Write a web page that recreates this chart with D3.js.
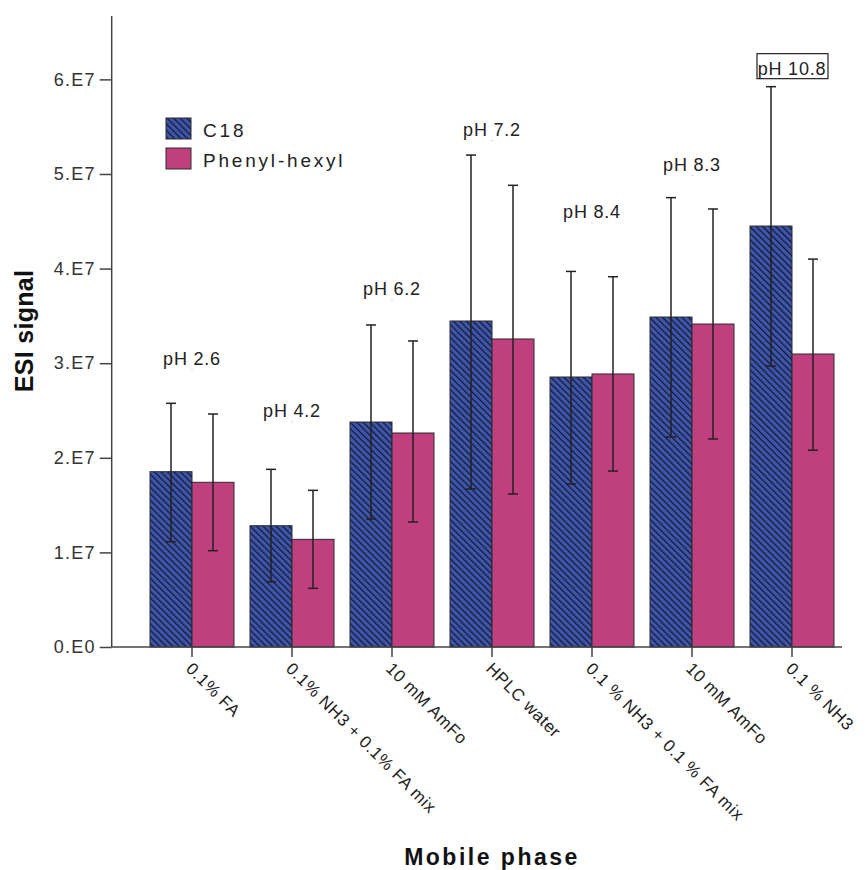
<!DOCTYPE html>
<html lang="en">
<head>
<meta charset="UTF-8">
<title>ESI signal by mobile phase</title>
<script src="https://d3js.org/d3.v7.min.js"></script>
<style>
    body { margin: 0; background: #fff; }
    text { font-family: "Liberation Sans", Arial, sans-serif; fill: #222; }
    .axis path, .axis line { stroke: #444; stroke-width: 1.5px; }
    .ytick text { font-size: 18px; letter-spacing: 1.2px; fill: #333; }
    .xlab { font-size: 17px; letter-spacing: 0.6px; }
    .ph { font-size: 18px; letter-spacing: 0.8px; }
    .legend text { font-size: 19px; letter-spacing: 2.8px; }
    .title { font-weight: bold; fill: #111; }
</style>
</head>
<body>
<svg width="868" height="870"></svg>
<script>
    // mobile phases (x categories)
    const categories = ["0.1% FA", "0.1% NH3 + 0.1% FA mix", "10 mM AmFo", "HPLC water",
        "0.1 % NH3 + 0.1 % FA mix", "10 mM AmFo", "0.1 % NH3"];
    const series = ["C18", "Phenyl-hexyl"];

    // mean ESI signal and error bar ends
    const c18 = [1.853e7, 1.282e7, 2.378e7, 3.446e7, 2.854e7, 3.488e7, 4.45e7];
    const c18Hi = [2.576e7, 1.878e7, 3.404e7, 5.20e7, 3.97e7, 4.75e7, 5.923e7];
    const c18Lo = [1.113e7, 0.69e7, 1.353e7, 1.67e7, 1.723e7, 2.22e7, 2.97e7];
    const phenyl = [1.741e7, 1.138e7, 2.262e7, 3.256e7, 2.886e7, 3.414e7, 3.097e7];
    const phenylHi = [2.463e7, 1.656e7, 3.235e7, 4.88e7, 3.914e7, 4.63e7, 4.10e7];
    const phenylLo = [1.018e7, 0.62e7, 1.321e7, 1.617e7, 1.86e7, 2.199e7, 2.08e7];

    // pH annotations and the signal level where their baseline sits
    const phLabels = ["pH 2.6", "pH 4.2", "pH 6.2", "pH 7.2", "pH 8.4", "pH 8.3", "pH 10.8"];
    const phLevel = [2.98e7, 2.43e7, 3.72e7, 5.40e7, 4.53e7, 5.03e7, 6.05e7];

    const yTicks = [0, 1e7, 2e7, 3e7, 4e7, 5e7, 6e7];
    const yTickLabels = ["0.E0", "1.E7", "2.E7", "3.E7", "4.E7", "5.E7", "6.E7"];

    const colors = ["url(#hatch)", "#C0407F"];

    const svg = d3.select("svg");
    const axisX = 111.7;

    const x = d3.scaleBand()
        .domain(d3.range(categories.length))
        .range([142, 842])
        .paddingInner(0.16)
        .paddingOuter(0.08);

    const xs = d3.scaleBand()
        .domain(series)
        .range([0, x.bandwidth()]);

    const y = d3.scaleLinear()
        .domain([0, 6.67e7])
        .range([647, 16]);

    // diagonal hatch for C18
    const pat = svg.append("defs").append("pattern")
        .attr("id", "hatch")
        .attr("patternUnits", "userSpaceOnUse")
        .attr("width", 4.6)
        .attr("height", 10)
        .attr("patternTransform", "rotate(-45)");
    pat.append("rect").attr("width", 4.6).attr("height", 10).attr("fill", "#3D55AC");
    pat.append("line")
        .attr("x1", 0.6).attr("x2", 0.6).attr("y1", 0).attr("y2", 10)
        .attr("stroke", "#141828").attr("stroke-width", 1.25);

    const rows = categories.map((c, i) => [
        { s: series[0], i: i, v: c18[i], hi: c18Hi[i], lo: c18Lo[i] },
        { s: series[1], i: i, v: phenyl[i], hi: phenylHi[i], lo: phenylLo[i] }
    ]);

    const groups = svg.append("g").selectAll("g")
        .data(rows)
        .enter().append("g")
        .attr("transform", (d, i) => "translate(" + x(i) + ",0)");

    groups.selectAll("rect")
        .data(d => d)
        .enter().append("rect")
        .attr("x", d => xs(d.s))
        .attr("y", d => y(d.v))
        .attr("width", xs.bandwidth())
        .attr("height", d => y(0) - y(d.v))
        .attr("fill", (d, j) => colors[j])
        .attr("stroke", "#2a2a2a")
        .attr("stroke-width", 1);

    // error bars
    const eb = groups.selectAll("g.err")
        .data(d => d)
        .enter().append("g")
        .attr("class", "err")
        .attr("stroke", "#222")
        .attr("stroke-width", 1.5);
    eb.append("line")
        .attr("x1", d => xs(d.s) + xs.bandwidth() / 2)
        .attr("x2", d => xs(d.s) + xs.bandwidth() / 2)
        .attr("y1", d => y(d.hi))
        .attr("y2", d => y(d.lo));
    eb.append("line")
        .attr("x1", d => xs(d.s) + xs.bandwidth() / 2 - 5)
        .attr("x2", d => xs(d.s) + xs.bandwidth() / 2 + 5)
        .attr("y1", d => y(d.hi))
        .attr("y2", d => y(d.hi));
    eb.append("line")
        .attr("x1", d => xs(d.s) + xs.bandwidth() / 2 - 5)
        .attr("x2", d => xs(d.s) + xs.bandwidth() / 2 + 5)
        .attr("y1", d => y(d.lo))
        .attr("y2", d => y(d.lo));

    // y axis
    const yAxis = svg.append("g")
        .attr("class", "axis ytick")
        .attr("transform", "translate(" + axisX + ",0)")
        .call(d3.axisLeft(y)
            .tickValues(yTicks)
            .tickFormat((d, i) => yTickLabels[i])
            .tickSize(12)
            .tickPadding(4)
            .tickSizeOuter(0));
    yAxis.select(".domain").attr("d", "M0," + y(0) + "V16");

    // x axis
    const xAxis = svg.append("g")
        .attr("class", "axis")
        .attr("transform", "translate(0," + y(0) + ")")
        .call(d3.axisBottom(x).tickSize(10).tickFormat("").tickSizeOuter(0));
    xAxis.select(".domain").attr("d", "M" + axisX + ",0H842");

    svg.append("g").selectAll("text")
        .data(categories)
        .enter().append("text")
        .attr("class", "xlab")
        .attr("transform", (d, i) => "translate(" + (x(i) + x.bandwidth() / 2) + "," + y(0) + ") rotate(45)")
        .attr("x", 11)
        .attr("y", 21)
        .text(d => d);

    // pH annotations
    const ph = svg.append("g").selectAll("g")
        .data(phLabels)
        .enter().append("g")
        .attr("transform", (d, i) => "translate(" + (x(i) + x.bandwidth() / 2) + "," + y(phLevel[i]) + ")");
    ph.filter((d, i) => i === phLabels.length - 1)
        .append("rect")
        .attr("x", -35).attr("y", -21)
        .attr("width", 71).attr("height", 25)
        .attr("fill", "#fff")
        .attr("stroke", "#222")
        .attr("stroke-width", 1.2);
    ph.append("text")
        .attr("class", "ph")
        .attr("text-anchor", "middle")
        .attr("x", 0)
        .text(d => d);
    ph.append("rect")
        .attr("x", -0.5).attr("y", 4)
        .attr("width", 1).attr("height", 1)
        .attr("fill", "#aaa");

    // legend
    const legend = svg.append("g")
        .attr("class", "legend")
        .attr("transform", "translate(166,118)");
    const li = legend.selectAll("g")
        .data(series)
        .enter().append("g")
        .attr("transform", (d, i) => "translate(0," + i * 30 + ")");
    li.append("rect")
        .attr("width", 25).attr("height", 21)
        .attr("fill", (d, i) => colors[i])
        .attr("stroke", "#2a2a2a")
        .attr("stroke-width", 1);
    li.append("text")
        .attr("x", 37)
        .attr("y", 19)
        .text(d => d);

    // axis titles
    svg.append("text")
        .attr("class", "title")
        .attr("transform", "translate(33,331) rotate(-90)")
        .attr("text-anchor", "middle")
        .style("font-size", "25px")
        .style("letter-spacing", "0.3px")
        .text("ESI signal");

    svg.append("text")
        .attr("class", "title")
        .attr("x", 492)
        .attr("y", 865)
        .attr("text-anchor", "middle")
        .style("font-size", "23px")
        .style("letter-spacing", "2.5px")
        .text("Mobile phase");
</script>
</body>
</html>
